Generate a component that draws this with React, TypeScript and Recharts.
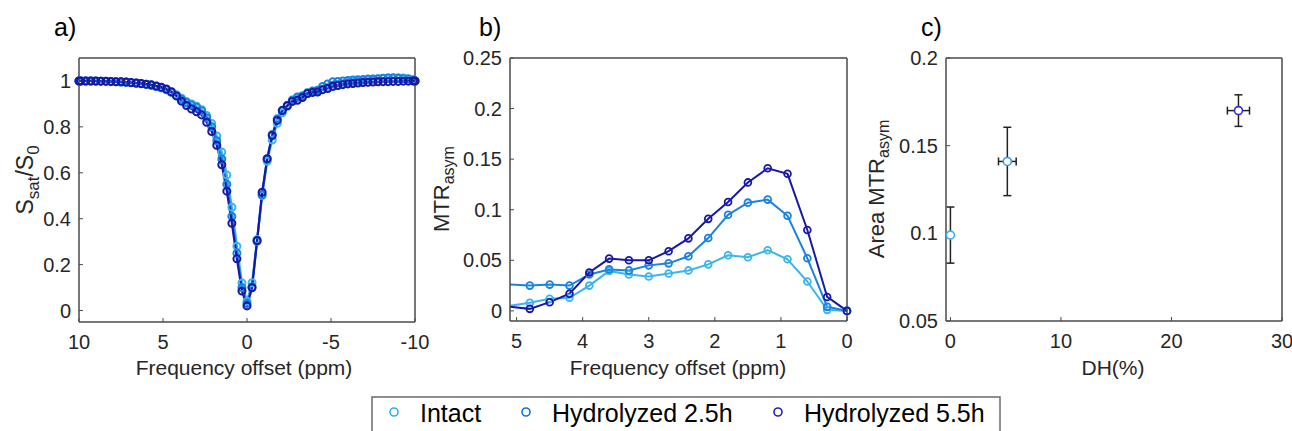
import React from 'react';
import { LineChart, Line, XAxis, YAxis, ScatterChart, Scatter, ErrorBar } from 'recharts';

// ---------- shared ----------
const seriesNames = ['Intact', 'Hydrolyzed 2.5h', 'Hydrolyzed 5.5h'];
const lineColors = ['#3cb4ee', '#1a82e2', '#1818a8'];
const markerColors = ['#3cb0f0', '#2f98f2', '#2c2ce0'];
const legendColors = ['#30b0f0', '#0a74e0', '#2020c0'];

// ---------- panel a : Z-spectra ----------
const zOffsets = [
  10, 9.9, 9.6, 9.3, 9.0, 8.7, 8.4, 8.1, 7.8, 7.5, 7.2, 6.9, 6.6, 6.3, 6.0, 5.7, 5.4, 5.1,
  4.8, 4.5, 4.2, 3.9, 3.6, 3.3, 3.0, 2.7, 2.4, 2.1, 1.8, 1.5, 1.2, 0.9, 0.6, 0.3, 0,
  -0.3, -0.6, -0.9, -1.2, -1.5, -1.8, -2.1, -2.4, -2.7, -3.0, -3.3, -3.6, -3.9, -4.2, -4.5, -4.8,
  -5.1, -5.4, -5.7, -6.0, -6.3, -6.6, -6.9, -7.2, -7.5, -7.8, -8.1, -8.4, -8.7, -9.0, -9.3, -9.6, -9.9, -10,
];
const zIntact = [
  1.0, 1.0, 1.0, 1.0, 1.0, 0.999, 0.999, 0.998, 0.997, 0.996, 0.995, 0.993, 0.991, 0.989, 0.986, 0.982, 0.977, 0.97,
  0.962, 0.952, 0.94, 0.925, 0.91, 0.9, 0.89, 0.875, 0.85, 0.815, 0.76, 0.69, 0.59, 0.45, 0.28, 0.12, 0.04,
  0.121, 0.309, 0.501, 0.65, 0.743, 0.815, 0.861, 0.89, 0.912, 0.924, 0.936, 0.95, 0.95, 0.953, 0.964, 0.97,
  0.975, 0.982, 0.988, 0.993, 0.997, 1.0, 1.003, 1.005, 1.007, 1.009, 1.011, 1.013, 1.014, 1.014, 1.013, 1.01, 1.005, 1.0,
];
const zHyd25 = [
  1.0, 1.0, 1.0, 1.0, 0.999, 0.999, 0.998, 0.997, 0.996, 0.995, 0.994, 0.992, 0.99, 0.988, 0.985, 0.981, 0.976, 0.97,
  0.962, 0.95, 0.935, 0.92, 0.905, 0.895, 0.885, 0.87, 0.84, 0.8, 0.74, 0.66, 0.55, 0.41, 0.25, 0.1, 0.03,
  0.104, 0.302, 0.504, 0.66, 0.767, 0.835, 0.872, 0.894, 0.917, 0.93, 0.935, 0.946, 0.956, 0.96, 0.976, 0.987,
  0.996, 0.998, 1.0, 1.002, 1.004, 1.005, 1.006, 1.008, 1.009, 1.01, 1.012, 1.013, 1.013, 1.012, 1.01, 1.008, 1.004, 1.0,
];
const zHyd55 = [
  1.0, 1.0, 1.0, 1.0, 1.0, 0.999, 0.999, 0.998, 0.997, 0.996, 0.995, 0.993, 0.991, 0.989, 0.986, 0.983, 0.978, 0.973,
  0.965, 0.953, 0.935, 0.912, 0.893, 0.878, 0.866, 0.852, 0.82, 0.78, 0.72, 0.635, 0.52, 0.38, 0.225, 0.085, 0.02,
  0.099, 0.305, 0.515, 0.661, 0.762, 0.828, 0.871, 0.892, 0.911, 0.916, 0.928, 0.945, 0.95, 0.952, 0.962, 0.967,
  0.977, 0.98, 0.984, 0.987, 0.989, 0.991, 0.993, 0.994, 0.995, 0.996, 0.997, 0.997, 0.998, 0.998, 0.999, 0.999, 1.0, 1.0,
];
const zXTicks = [10, 5, 0, -5, -10];
const zYTicks = [0, 0.2, 0.4, 0.6, 0.8, 1];

// ---------- panel b : MTRasym ----------
const mtrOffsets = [5.1, 4.8, 4.5, 4.2, 3.9, 3.6, 3.3, 3.0, 2.7, 2.4, 2.1, 1.8, 1.5, 1.2, 0.9, 0.6, 0.3, 0];
const mtrIntact = [0.005, 0.008, 0.012, 0.013, 0.025, 0.0395, 0.036, 0.034, 0.037, 0.04, 0.046, 0.055, 0.053, 0.06, 0.051, 0.029, 0.001, 0];
const mtrHyd25 = [0.026, 0.025, 0.026, 0.025, 0.036, 0.041, 0.04, 0.045, 0.047, 0.054, 0.072, 0.095, 0.107, 0.11, 0.094, 0.052, 0.004, 0];
const mtrHyd55 = [0.004, 0.002, 0.0086, 0.017, 0.038, 0.0517, 0.05, 0.05, 0.059, 0.0717, 0.091, 0.1076, 0.127, 0.141, 0.1355, 0.08, 0.0138, 0];
const mtrXTicks = [5, 4, 3, 2, 1, 0];
const mtrYTicks = [0, 0.05, 0.1, 0.15, 0.2, 0.25];

// ---------- panel c : area vs DH ----------
const dhValues = [0, 5.15, 26.06];
const dhErrors = [0, 0.8, 1.0];
const areaValues = [0.099, 0.141, 0.17];
const areaErrors = [0.016, 0.0195, 0.009];
const dhXTicks = [0, 10, 20, 30];
const areaYTicks = [0.05, 0.1, 0.15, 0.2];

// ---------- styling ----------
const FONT = '"Liberation Sans", Arial, sans-serif';
const AXIS = '#4a4a4a';
const TEXT = '#262626';
const tickStyle = { fill: TEXT, fontSize: 20, fontFamily: FONT };
const axisLine = { stroke: AXIS, strokeWidth: 1.5 };
const tickLine = { stroke: AXIS, strokeWidth: 1 };

const zData = zOffsets.map((x, i) => ({ x, intact: zIntact[i], h25: zHyd25[i], h55: zHyd55[i] }));
const mtrData = mtrOffsets.map((x, i) => ({ x, intact: mtrIntact[i], h25: mtrHyd25[i], h55: mtrHyd55[i] }));
const scatterSets = dhValues.map((x, i) => [{ x, y: areaValues[i], ex: dhErrors[i], ey: areaErrors[i] }]);
const keys = ['intact', 'h25', 'h55'];

const CH_H = 390;
const TOP = 58;
const BOTTOM = 322;

const mtrDot = (color: string) => (p: any) => {
  const { cx, cy, index } = p;
  if (index === 0 || cx == null || cy == null) return <g key={`e${index}`} />;
  return <circle key={`d${index}`} cx={cx} cy={cy} r={3.4} stroke={color} strokeWidth={1.8} fill="none" />;
};

// margins are given for the plot box; axes occupy 1px each
const m = (top: number, left: number, right: number, bottom: number) => ({
  top: top - 1, left: left - 1, right: right - 1, bottom: bottom - 1,
});

const legendItems = [
  { cx: 394, tx: 420 },
  { cx: 526, tx: 552 },
  { cx: 778, tx: 804 },
];

export default function App() {
  const axesFor = (xDomain: number[], yDomain: number[], xTicks: number[], yTicks: number[], reversed: boolean) => [
    <XAxis key="xb" xAxisId="b" dataKey="x" type="number" domain={xDomain} ticks={xTicks} reversed={reversed}
      height={1} tickSize={-4} tickMargin={17} axisLine={axisLine} tickLine={tickLine} tick={tickStyle} interval={0} />,
    <XAxis key="xt" xAxisId="t" orientation="top" dataKey="x" type="number" domain={xDomain} ticks={xTicks} reversed={reversed}
      height={1} tickSize={-4} axisLine={axisLine} tickLine={tickLine} tick={false} interval={0} />,
    <YAxis key="yl" yAxisId="l" type="number" domain={yDomain} ticks={yTicks} width={1} tickSize={-4} tickMargin={12}
      axisLine={axisLine} tickLine={tickLine} tick={tickStyle} interval={0} />,
    <YAxis key="yr" yAxisId="r" orientation="right" type="number" domain={yDomain} ticks={yTicks} width={1} tickSize={-4}
      axisLine={axisLine} tickLine={tickLine} tick={false} interval={0} />,
  ];

  return (
    <div style={{ position: 'absolute', left: 0, top: 0, width: 1292, height: 431, background: '#fff', overflow: 'hidden', fontFamily: FONT }}>
      {/* panel a */}
      <div style={{ position: 'absolute', left: 0, top: 0 }}>
        <LineChart width={430} height={CH_H} data={zData} margin={m(TOP, 79, 15, CH_H - BOTTOM)}>
          {axesFor([-10, 10], [-0.05, 1.1], zXTicks, zYTicks, true)}
          {keys.map((k, i) => (
            <Line key={k} xAxisId="b" yAxisId="l" dataKey={k} type="linear" stroke={lineColors[i]} strokeWidth={2.2}
              dot={{ r: 3.5, stroke: lineColors[i], strokeWidth: 2, fill: 'none' }} isAnimationActive={false} />
          ))}
        </LineChart>
      </div>
      {/* panel b */}
      <div style={{ position: 'absolute', left: 430, top: 0 }}>
        <LineChart width={430} height={CH_H} data={mtrData} margin={m(TOP, 80, 13, CH_H - BOTTOM + 1)}>
          {axesFor([0, 5.1], [-0.01, 0.25], mtrXTicks, mtrYTicks, true)}
          {keys.map((k, i) => (
            <Line key={k} xAxisId="b" yAxisId="l" dataKey={k} type="linear" stroke={lineColors[i]} strokeWidth={2}
              dot={mtrDot(lineColors[i])} isAnimationActive={false} />
          ))}
        </LineChart>
      </div>
      {/* panel c */}
      <div style={{ position: 'absolute', left: 860, top: 0 }}>
        <ScatterChart width={432} height={CH_H} margin={m(TOP, 86, 10, CH_H - BOTTOM + 1)}>
          {axesFor([-0.4, 30], [0.05, 0.2], dhXTicks, areaYTicks, false)}
          {scatterSets.map((d, i) => (
            <Scatter key={i} name={seriesNames[i]} data={d} xAxisId="b" yAxisId="l" dataKey="y" isAnimationActive={false}
              shape={(p: any) => <circle cx={p.cx} cy={p.cy} r={4} stroke={markerColors[i]} strokeWidth={1.6} fill="#fff" />}>
              <ErrorBar dataKey="ey" direction="y" width={4} stroke="#222" strokeWidth={1.5} isAnimationActive={false} />
              {dhErrors[i] > 0 ? <ErrorBar dataKey="ex" direction="x" width={4} stroke="#222" strokeWidth={1.5} isAnimationActive={false} /> : null}
            </Scatter>
          ))}
        </ScatterChart>
      </div>

      {/* titles, panel labels and legend */}
      <svg width={1292} height={431} style={{ position: 'absolute', left: 0, top: 0, pointerEvents: 'none' }} fontFamily={FONT}>
        <text x={54} y={36} fontSize={25} fill="#000">a)</text>
        <text x={479} y={36} fontSize={25} fill="#000">b)</text>
        <text x={921} y={36} fontSize={25} fill="#000">c)</text>

        <text x={244} y={375} fontSize={21} fill={TEXT} textAnchor="middle">Frequency offset (ppm)</text>
        <text x={678} y={375} fontSize={21} fill={TEXT} textAnchor="middle">Frequency offset (ppm)</text>
        <text x={1113} y={375} fontSize={21} fill={TEXT} textAnchor="middle">DH(%)</text>

        <text transform="translate(33,180) rotate(-90)" fontSize={23} fill={TEXT} textAnchor="middle">
          S<tspan dy={6} fontSize={17}>sat</tspan><tspan dy={-6}>/S</tspan><tspan dy={6} fontSize={17}>0</tspan>
        </text>
        <text transform="translate(449,189) rotate(-90)" fontSize={22} fill={TEXT} textAnchor="middle">
          MTR<tspan dy={5} fontSize={16}>asym</tspan>
        </text>
        <text transform="translate(884,189) rotate(-90)" fontSize={22} fill={TEXT} textAnchor="middle">
          Area MTR<tspan dy={5} fontSize={16}>asym</tspan>
        </text>

        <rect x={372} y={397} width={628} height={60} fill="#fff" stroke="#6a6a6a" strokeWidth={1.5} />
        {legendItems.map((p, i) => (
          <g key={i}>
            <circle cx={p.cx} cy={412} r={4} stroke={legendColors[i]} strokeWidth={1.6} fill="none" />
            <text x={p.tx} y={422} fontSize={25} fill="#000">{seriesNames[i]}</text>
          </g>
        ))}
      </svg>
    </div>
  );
}
